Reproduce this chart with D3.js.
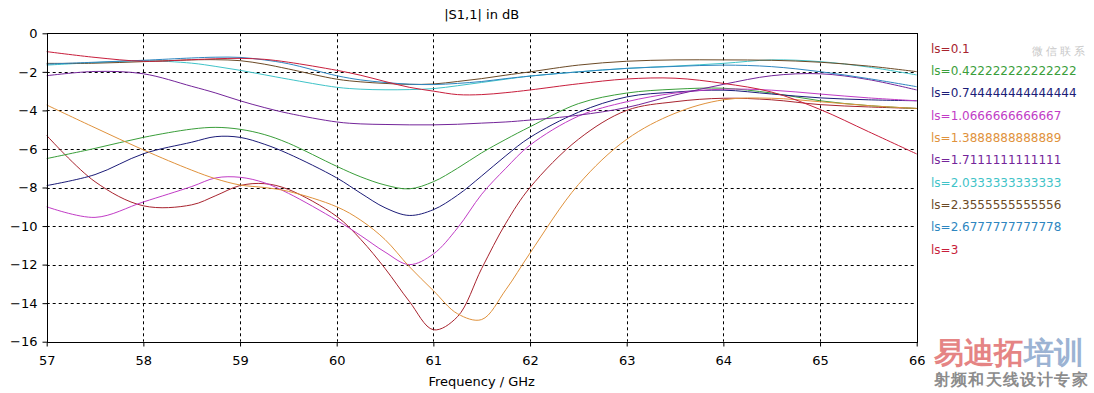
<!DOCTYPE html>
<html>
<head>
<meta charset="utf-8">
<script src="https://cdn.jsdelivr.net/npm/d3@7"></script>
<style>
  body { margin: 0; background: #fff; }
  text { font-family: "DejaVu Sans", Verdana, sans-serif; }
</style>
</head>
<body>
<div id="chart"></div>
<script>
// frequency grid (GHz)
const freq = [57, 57.5, 58, 58.5, 58.75, 59, 59.25, 59.5, 60, 60.25, 60.5, 60.75, 61, 61.25, 61.5, 61.75, 62, 62.5, 63, 63.5, 64, 64.5, 65, 65.5, 66];

// |S1,1| in dB for each ls value
const s_0_1   = [-5.3, -7.7, -8.95, -8.9, -8.42, -7.9, -7.8, -8.1, -9.5, -10.7, -12.2, -13.9, -15.38, -14.7, -12.2, -9.85, -8.0, -5.5, -4.0, -3.55, -3.37, -3.45, -3.7, -3.82, -3.9];
const s_0_422 = [-6.5, -5.97, -5.4, -4.97, -4.88, -4.98, -5.25, -5.7, -6.9, -7.45, -7.87, -8.07, -7.7, -7.0, -6.2, -5.5, -4.85, -3.65, -3.1, -2.9, -2.85, -3.1, -3.5, -3.75, -3.9];
const s_0_744 = [-7.9, -7.33, -6.25, -5.65, -5.36, -5.4, -5.75, -6.25, -7.5, -8.3, -9.05, -9.45, -9.15, -8.4, -7.4, -6.35, -5.4, -4.1, -3.3, -3.05, -2.95, -3.15, -3.35, -3.45, -3.5];
const s_1_067 = [-9.0, -9.55, -8.75, -7.95, -7.5, -7.47, -7.75, -8.3, -9.7, -10.5, -11.35, -12.0, -11.45, -10.1, -8.35, -7.0, -5.8, -4.3, -3.55, -3.1, -2.9, -2.95, -3.15, -3.35, -3.5];
const s_1_389 = [-3.72, -4.9, -6.05, -7.1, -7.55, -7.87, -8.0, -8.2, -9.0, -9.7, -10.7, -12.1, -13.35, -14.55, -14.85, -13.3, -11.4, -7.85, -5.5, -4.15, -3.45, -3.37, -3.55, -3.75, -3.9];
const s_1_711 = [-2.2, -1.98, -2.1, -2.75, -3.1, -3.5, -3.85, -4.15, -4.6, -4.7, -4.73, -4.75, -4.75, -4.72, -4.66, -4.6, -4.5, -4.25, -3.85, -3.2, -2.65, -2.2, -2.1, -2.4, -2.94];
const s_2_033 = [-1.65, -1.52, -1.42, -1.55, -1.72, -1.92, -2.15, -2.38, -2.8, -2.9, -2.93, -2.92, -2.87, -2.72, -2.55, -2.38, -2.22, -2.0, -1.82, -1.7, -1.56, -1.38, -1.47, -1.75, -2.16];
const s_2_356 = [-1.56, -1.55, -1.47, -1.38, -1.37, -1.42, -1.6, -1.85, -2.38, -2.52, -2.6, -2.65, -2.63, -2.5, -2.35, -2.17, -2.0, -1.65, -1.45, -1.38, -1.38, -1.4, -1.5, -1.7, -1.99];
const s_2_678 = [-1.6, -1.5, -1.4, -1.28, -1.24, -1.25, -1.38, -1.58, -2.2, -2.42, -2.55, -2.64, -2.66, -2.6, -2.5, -2.35, -2.22, -2.0, -1.82, -1.72, -1.65, -1.73, -1.99, -2.35, -2.77];
const s_3     = [-0.95, -1.25, -1.45, -1.37, -1.32, -1.3, -1.35, -1.5, -1.92, -2.18, -2.5, -2.8, -3.0, -3.18, -3.18, -3.08, -2.94, -2.62, -2.37, -2.33, -2.6, -3.05, -3.95, -5.1, -6.26];

const labels = ["ls=0.1", "ls=0.422222222222222", "ls=0.744444444444444", "ls=1.0666666666667", "ls=1.3888888888889",
                "ls=1.7111111111111", "ls=2.0333333333333", "ls=2.3555555555556", "ls=2.6777777777778", "ls=3"];
const colors = ["#a8232e", "#3a9e3a", "#1c1c78", "#c13cc6", "#e0923c", "#74259a", "#3fc3c8", "#6b4a26", "#2e86c0", "#c81e3c"];
const seriesValues = [s_0_1, s_0_422, s_0_744, s_1_067, s_1_389, s_1_711, s_2_033, s_2_356, s_2_678, s_3];

const xTicks = [57, 58, 59, 60, 61, 62, 63, 64, 65, 66];
const yTicks = [0, -2, -4, -6, -8, -10, -12, -14, -16];

const width = 1094, height = 393;
const padding = {top: 33.3, right: 177.3, bottom: 51.3, left: 46.7};

const svg = d3.select("#chart").append("svg")
  .attr("width", width)
  .attr("height", height);

const x = d3.scaleLinear().domain([57, 66]).range([padding.left, width - padding.right]);
const y = d3.scaleLinear().domain([-16, 0]).range([height - padding.bottom, padding.top]);

// grid
svg.append("g")
  .selectAll("line")
  .data(xTicks.slice(1, -1))
  .join("line")
    .attr("x1", function(d){ return Math.round(x(d)) + 0.5; })
    .attr("x2", function(d){ return Math.round(x(d)) + 0.5; })
    .attr("y1", y(0))
    .attr("y2", y(-16))
    .attr("stroke", "#000")
    .attr("stroke-dasharray", "3,3");
svg.append("g")
  .selectAll("line")
  .data(yTicks.slice(1, -1))
  .join("line")
    .attr("y1", function(d){ return Math.round(y(d)) + 0.5; })
    .attr("y2", function(d){ return Math.round(y(d)) + 0.5; })
    .attr("x1", x(57))
    .attr("x2", x(66))
    .attr("stroke", "#000")
    .attr("stroke-dasharray", "3,3");

// curves
const line = d3.line()
  .x(function(d){ return x(d[0]); })
  .y(function(d){ return y(d[1]); })
  .curve(d3.curveCatmullRom.alpha(0.5));

svg.append("g")
  .selectAll("path")
  .data(seriesValues)
  .join("path")
    .attr("fill", "none")
    .attr("stroke", function(d, i){ return colors[i]; })
    .attr("stroke-width", 1)
    .attr("d", function(d){ return line(d.map(function(v, j){ return [freq[j], v]; })); });

// frame
svg.append("rect")
  .attr("x", Math.round(x(57)) + 0.5)
  .attr("y", Math.round(y(0)) + 0.5)
  .attr("width", Math.round(x(66)) - Math.round(x(57)))
  .attr("height", Math.round(y(-16)) - Math.round(y(0)))
  .attr("fill", "none")
  .attr("stroke", "#000");

// axes
const xAxis = d3.axisBottom(x).tickValues(xTicks).tickSize(4).tickPadding(9).tickFormat(d3.format("d"));
const yAxis = d3.axisLeft(y).tickValues(yTicks).tickSize(5).tickPadding(5).tickFormat(d3.format("d"));

svg.append("g")
  .attr("class", "axis x")
  .attr("transform", "translate(0," + (Math.round(y(-16)) + 0.5) + ")")
  .call(xAxis);
svg.append("g")
  .attr("class", "axis y")
  .attr("transform", "translate(" + (Math.round(x(57)) + 0.5) + ",0)")
  .call(yAxis);

svg.selectAll(".axis .domain").remove();
svg.selectAll(".axis text")
  .attr("font-family", "DejaVu Sans, Verdana, sans-serif")
  .attr("font-size", 13)
  .attr("fill", "#000");
svg.selectAll(".axis line").attr("stroke", "#000");

// title and axis label
svg.append("text")
  .attr("x", (x(57) + x(66)) / 2)
  .attr("y", 18.5)
  .attr("text-anchor", "middle")
  .attr("font-size", 13)
  .text("|S1,1| in dB");

svg.append("text")
  .attr("x", (x(57) + x(66)) / 2)
  .attr("y", 386)
  .attr("text-anchor", "middle")
  .attr("font-size", 13)
  .text("Frequency / GHz");

// legend
svg.append("g")
  .selectAll("text")
  .data(labels)
  .join("text")
    .attr("x", 931)
    .attr("y", function(d, i){ return 52.5 + i * 22.35; })
    .attr("font-size", 12)
    .attr("fill", function(d, i){ return colors[i]; })
    .text(function(d){ return d; });

// watermark
const wm = svg.append("text")
  .attr("x", 934)
  .attr("y", 363)
  .attr("font-family", "Noto Sans CJK SC")
  .attr("font-weight", "bold")
  .attr("font-size", 30);
wm.append("tspan").attr("fill", "#e58484").text("易迪拓");
wm.append("tspan").attr("fill", "#9cb3d3").text("培训");

svg.append("text")
  .attr("x", 934)
  .attr("y", 385)
  .attr("font-family", "Noto Sans CJK SC")
  .attr("font-weight", "bold")
  .attr("font-size", 15.5)
  .attr("letter-spacing", 1.2)
  .attr("fill", "#8c8c8c")
  .text("射频和天线设计专家");

svg.append("text")
  .attr("x", 1032)
  .attr("y", 55)
  .attr("font-family", "Noto Sans CJK SC")
  .attr("font-size", 11)
  .attr("letter-spacing", 3)
  .attr("fill", "#c8c8c8")
  .text("微信联系");
</script>
</body>
</html>
